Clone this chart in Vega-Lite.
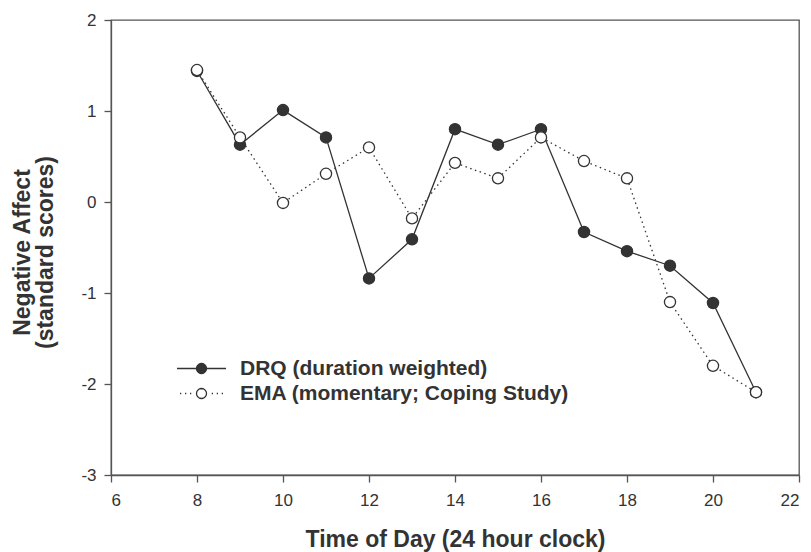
{
  "$schema": "https://vega.github.io/schema/vega-lite/v6.json",
  "width": 688,
  "height": 455,
  "autosize": {"type": "none"},
  "padding": {"left": 111, "top": 20, "right": 12, "bottom": 77},
  "background": "white",
  "config": {
    "view": {"stroke": "#555", "strokeWidth": 1.3},
    "font": "Liberation Sans",
    "axis": {
      "grid": false,
      "domainColor": "#555",
      "domainWidth": 1.3,
      "tickColor": "#555",
      "tickWidth": 1.3,
      "tickSize": 7,
      "labelFont": "Liberation Sans",
      "labelFontSize": 17,
      "labelColor": "#333",
      "titleFont": "Liberation Sans",
      "titleFontSize": 23,
      "titleFontWeight": "bold",
      "titleColor": "#333"
    }
  },
  "data": {
    "values": [
      {"t": 8, "v": 1.44, "s": "DRQ (duration weighted)"},
      {"t": 9, "v": 0.63, "s": "DRQ (duration weighted)"},
      {"t": 10, "v": 1.01, "s": "DRQ (duration weighted)"},
      {"t": 11, "v": 0.71, "s": "DRQ (duration weighted)"},
      {"t": 12, "v": -0.84, "s": "DRQ (duration weighted)"},
      {"t": 13, "v": -0.41, "s": "DRQ (duration weighted)"},
      {"t": 14, "v": 0.8, "s": "DRQ (duration weighted)"},
      {"t": 15, "v": 0.63, "s": "DRQ (duration weighted)"},
      {"t": 16, "v": 0.8, "s": "DRQ (duration weighted)"},
      {"t": 17, "v": -0.33, "s": "DRQ (duration weighted)"},
      {"t": 18, "v": -0.54, "s": "DRQ (duration weighted)"},
      {"t": 19, "v": -0.7, "s": "DRQ (duration weighted)"},
      {"t": 20, "v": -1.11, "s": "DRQ (duration weighted)"},
      {"t": 21, "v": -2.09, "s": "DRQ (duration weighted)"},
      {"t": 8, "v": 1.45, "s": "EMA (momentary; Coping Study)"},
      {"t": 9, "v": 0.71, "s": "EMA (momentary; Coping Study)"},
      {"t": 10, "v": -0.01, "s": "EMA (momentary; Coping Study)"},
      {"t": 11, "v": 0.31, "s": "EMA (momentary; Coping Study)"},
      {"t": 12, "v": 0.6, "s": "EMA (momentary; Coping Study)"},
      {"t": 13, "v": -0.18, "s": "EMA (momentary; Coping Study)"},
      {"t": 14, "v": 0.43, "s": "EMA (momentary; Coping Study)"},
      {"t": 15, "v": 0.26, "s": "EMA (momentary; Coping Study)"},
      {"t": 16, "v": 0.71, "s": "EMA (momentary; Coping Study)"},
      {"t": 17, "v": 0.45, "s": "EMA (momentary; Coping Study)"},
      {"t": 18, "v": 0.26, "s": "EMA (momentary; Coping Study)"},
      {"t": 19, "v": -1.1, "s": "EMA (momentary; Coping Study)"},
      {"t": 20, "v": -1.8, "s": "EMA (momentary; Coping Study)"},
      {"t": 21, "v": -2.09, "s": "EMA (momentary; Coping Study)"}
    ]
  },
  "encoding": {
    "x": {
      "field": "t",
      "type": "quantitative",
      "scale": {"domain": [6, 22], "nice": false, "zero": false},
      "axis": {
        "values": [6, 8, 10, 12, 14, 16, 18, 20, 22],
        "labelExpr": "'' + datum.value",
        "labelPadding": 10,
        "title": "Time of Day (24 hour clock)",
        "titleBaseline": "alphabetic",
        "titleY": 71
      }
    },
    "y": {
      "field": "v",
      "type": "quantitative",
      "scale": {"domain": [-3, 2], "nice": false, "zero": false},
      "axis": {
        "values": [-3, -2, -1, 0, 1, 2],
        "labelExpr": "'' + datum.value",
        "labelPadding": 8,
        "title": ["Negative Affect", "(standard scores)"],
        "titleAngle": -90,
        "titleAlign": "center",
        "titleBaseline": "alphabetic",
        "titleLineHeight": 23,
        "titleX": -82,
        "titleY": 232
      }
    }
  },
  "layer": [
    {
      "transform": [{"filter": "datum.s == 'DRQ (duration weighted)'"}],
      "mark": {"type": "line", "stroke": "#333", "strokeWidth": 1.3},
      "encoding": {}
    },
    {
      "transform": [{"filter": "datum.s == 'EMA (momentary; Coping Study)'"}],
      "mark": {"type": "line", "stroke": "#333", "strokeWidth": 1.3, "strokeDash": [1.5, 3.5]},
      "encoding": {}
    },
    {
      "mark": {"type": "point", "filled": true, "stroke": "#333", "strokeWidth": 1.3, "size": 125, "opacity": 1},
      "encoding": {
        "fill": {
          "field": "s",
          "type": "nominal",
          "scale": {
            "domain": ["DRQ (duration weighted)", "EMA (momentary; Coping Study)"],
            "range": ["#333333", "#ffffff"]
          },
          "legend": {
            "orient": "none",
            "legendX": 80,
            "legendY": 338,
            "title": null,
            "labelFont": "Liberation Sans",
            "labelFontSize": 21,
            "labelFontWeight": "bold",
            "labelColor": "#333",
            "labelLimit": 500,
            "labelOffset": 28,
            "symbolSize": 100,
            "symbolStrokeWidth": 1.3,
            "symbolStrokeColor": "#333",
            "symbolOpacity": 1,
            "rowPadding": 3,
            "encode": {
              "symbols": {
                "update": {
                  "shape": {"signal": "datum.value == 'DRQ (duration weighted)' ? 'M-4.9,0L-1,0M1,0L4.9,0M1,0L0.951,0.309L0.809,0.588L0.588,0.809L0.309,0.951L0,1L-0.309,0.951L-0.588,0.809L-0.809,0.588L-0.951,0.309L-1,0L-0.951,-0.309L-0.809,-0.588L-0.588,-0.809L-0.309,-0.951L0,-1L0.309,-0.951L0.588,-0.809L0.809,-0.588L0.951,-0.309Z' : 'M-4.3,0L-4.05,0M-3.3,0L-3.05,0M-2.3,0L-2.05,0M2.05,0L2.3,0M3.05,0L3.3,0M4.05,0L4.3,0M1,0L0.951,0.309L0.809,0.588L0.588,0.809L0.309,0.951L0,1L-0.309,0.951L-0.588,0.809L-0.809,0.588L-0.951,0.309L-1,0L-0.951,-0.309L-0.809,-0.588L-0.588,-0.809L-0.309,-0.951L0,-1L0.309,-0.951L0.588,-0.809L0.809,-0.588L0.951,-0.309Z'"},
                  "stroke": {"value": "#333"},
                  "strokeWidth": {"value": 1.3},
                  "opacity": {"value": 1}
                }
              }
            }
          }
        }
      }
    }
  ]
}
